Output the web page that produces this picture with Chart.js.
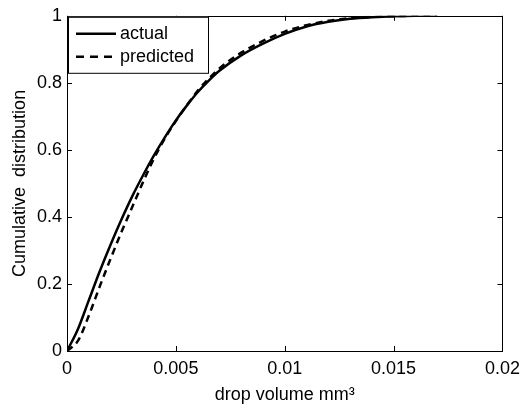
<!DOCTYPE html>
<html>
<head>
<meta charset="utf-8">
<script src="https://cdn.jsdelivr.net/npm/chart.js@4.4.0/dist/chart.umd.min.js"></script>
<style>
  html, body { margin: 0; padding: 0; background: #fff; }
  #wrap { width: 527px; height: 412px; }
</style>
</head>
<body>
<div id="wrap"><canvas id="cdf"></canvas></div>
<script>
// valeurs
const volume = [0, 0.0005, 0.001, 0.0015, 0.002, 0.0025, 0.003, 0.0035, 0.004, 0.0045, 0.005,
                0.0055, 0.006, 0.0065, 0.007, 0.008, 0.009, 0.010, 0.011, 0.012, 0.013, 0.014,
                0.015, 0.016, 0.017];
const actual = [0, 0.065, 0.151, 0.237, 0.317, 0.392, 0.462, 0.525, 0.584, 0.638, 0.688,
                0.732, 0.772, 0.806, 0.836, 0.882, 0.917, 0.946, 0.968, 0.982, 0.991, 0.996,
                0.999, 1, 1];
const predicted = [0, 0.03, 0.105, 0.192, 0.275, 0.355, 0.43, 0.505, 0.575, 0.635, 0.686,
                   0.733, 0.776, 0.812, 0.843, 0.89, 0.925, 0.953, 0.972, 0.985, 0.993, 0.997,
                   0.999, 1, 1];
const xTicks = [0, 0.005, 0.01, 0.015, 0.02];
const xTickLabels = ['0', '0.005', '0.01', '0.015', '0.02'];
const yTicks = [0, 0.2, 0.4, 0.6, 0.8, 1];
const yTickLabels = ['0', '0.2', '0.4', '0.6', '0.8', '1'];
const seriesNames = ['actual', 'predicted'];

const FONT = '"Liberation Sans", Arial, Helvetica, sans-serif';

// cadre + graduations vers l'intérieur, façon matlab
const frameTicks = {
    id: 'frameTicks',
    afterDatasetsDraw(chart) {
        const { ctx, chartArea: a, scales } = chart;
        ctx.save();
        ctx.strokeStyle = '#000';
        ctx.lineWidth = 1;
        ctx.beginPath();
        xTicks.forEach(v => {
            const px = Math.round(scales.x.getPixelForValue(v)) + 0.5;
            ctx.moveTo(px, a.bottom); ctx.lineTo(px, a.bottom - 5);
            ctx.moveTo(px, a.top); ctx.lineTo(px, a.top + 5);
        });
        yTicks.forEach(v => {
            const py = Math.round(scales.y.getPixelForValue(v)) + 0.5;
            ctx.moveTo(a.left, py); ctx.lineTo(a.left + 5, py);
            ctx.moveTo(a.right, py); ctx.lineTo(a.right - 5, py);
        });
        ctx.stroke();
        ctx.strokeRect(Math.round(a.left) + 0.5, Math.round(a.top) + 0.5,
                       Math.round(a.right - a.left), Math.round(a.bottom - a.top));

        // légende dans le coin haut gauche
        const lx = a.left + 1, ly = a.top + 1;
        ctx.fillStyle = '#fff';
        ctx.fillRect(lx, ly, 140, 56);
        ctx.strokeRect(lx + 0.5, ly + 0.5, 140, 56);
        ctx.font = '18px ' + FONT;
        ctx.textBaseline = 'middle';
        ctx.fillStyle = '#000';
        seriesNames.forEach((name, i) => {
            const ds = chart.data.datasets[i];
            const yy = ly + 17 + i * 23;
            ctx.lineWidth = ds.borderWidth;
            ctx.setLineDash(i === 1 ? [8, 6] : []);
            ctx.beginPath();
            ctx.moveTo(lx + 8, yy); ctx.lineTo(lx + 48, yy);
            ctx.stroke();
            ctx.setLineDash([]);
            ctx.fillText(name, lx + 52, yy);
        });
        ctx.restore();
    }
};

new Chart(document.getElementById('cdf'), {
    type: 'line',
    data: {
        datasets: [
            {
                label: seriesNames[0],
                data: volume.map((v, i) => ({ x: v, y: actual[i] })),
                borderColor: '#000',
                borderWidth: 2.5,
                pointRadius: 0,
                cubicInterpolationMode: 'monotone'
            },
            {
                label: seriesNames[1],
                data: volume.map((v, i) => ({ x: v, y: predicted[i] })),
                borderColor: '#000',
                borderWidth: 2.5,
                borderDash: [7, 5],
                pointRadius: 0,
                cubicInterpolationMode: 'monotone'
            }
        ]
    },
    options: {
        responsive: true,
        maintainAspectRatio: false,
        animation: false,
        layout: { padding: { left: 0, right: 20, top: 13, bottom: 0 } },
        plugins: { legend: { display: false }, tooltip: { enabled: false } },
        scales: {
            x: {
                type: 'linear',
                min: 0, max: 0.02,
                afterBuildTicks: s => { s.ticks = xTicks.map(v => ({ value: v })); },
                afterFit: s => { s.height = 61; },
                grid: { display: false, drawTicks: false },
                border: { display: false },
                ticks: {
                    padding: 7,
                    color: '#000',
                    font: { family: FONT, size: 18 },
                    maxRotation: 0,
                    callback: (v) => xTickLabels[xTicks.indexOf(v)]
                },
                title: {
                    display: true,
                    text: 'drop volume mm³',
                    color: '#000',
                    font: { family: FONT, size: 18 },
                    padding: { top: 0, bottom: 6 }
                }
            },
            y: {
                min: 0, max: 1,
                afterBuildTicks: s => { s.ticks = yTicks.map(v => ({ value: v })); },
                afterFit: s => { s.width = 67; },
                grid: { display: false, drawTicks: false },
                border: { display: false },
                ticks: {
                    padding: 5,
                    color: '#000',
                    font: { family: FONT, size: 18 },
                    callback: (v) => yTickLabels[yTicks.indexOf(v)]
                },
                title: {
                    display: true,
                    text: 'Cumulative  distribution',
                    color: '#000',
                    font: { family: FONT, size: 18 },
                    padding: { top: 9, bottom: 0 }
                }
            }
        }
    },
    plugins: [frameTicks]
});
</script>
</body>
</html>
